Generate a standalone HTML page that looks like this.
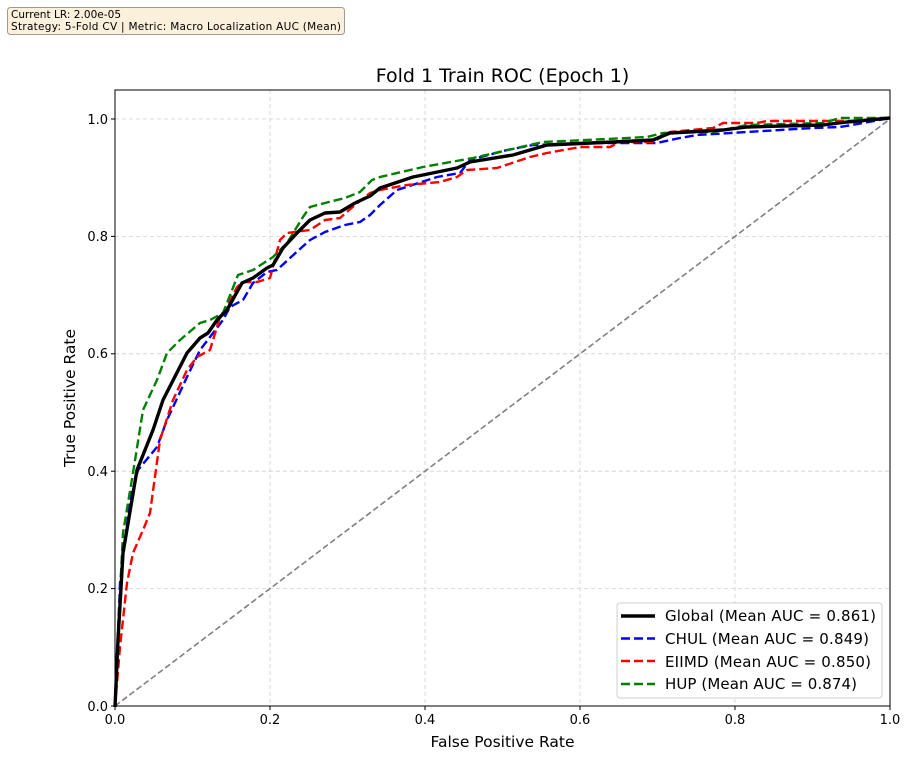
<!DOCTYPE html>
<html><head><meta charset="utf-8"><style>
body{margin:0;background:#fff;}
svg{display:block;font-family:"DejaVu Sans","Liberation Sans",sans-serif;}
</style></head><body>
<svg width="911" height="760" viewBox="0 0 911 760" xmlns="http://www.w3.org/2000/svg">
<rect width="911" height="760" fill="#fff"/>
<rect x="7.5" y="7.5" width="337" height="27" rx="3" fill="#fbf0dc" stroke="#a09a8c" stroke-width="1"/>
<text x="11" y="18" font-size="10.5" fill="#000" textLength="110">Current LR: 2.00e-05</text>
<text x="11" y="30" font-size="10.5" fill="#000" textLength="330">Strategy: 5-Fold CV | Metric: Macro Localization AUC (Mean)</text>
<text x="502.5" y="82" font-size="19" text-anchor="middle">Fold 1 Train ROC (Epoch 1)</text>
<g stroke="#d0d0d0" stroke-width="0.8" stroke-dasharray="4,3">
<line x1="270" y1="90" x2="270" y2="706"/><line x1="425" y1="90" x2="425" y2="706"/>
<line x1="580" y1="90" x2="580" y2="706"/><line x1="735" y1="90" x2="735" y2="706"/>
<line x1="115" y1="119" x2="890" y2="119"/><line x1="115" y1="236.4" x2="890" y2="236.4"/>
<line x1="115" y1="353.8" x2="890" y2="353.8"/><line x1="115" y1="471.2" x2="890" y2="471.2"/>
<line x1="115" y1="588.6" x2="890" y2="588.6"/>
</g>
<line x1="115" y1="706" x2="890" y2="119" stroke="#808080" stroke-width="1.6" stroke-dasharray="6,3"/>
<g fill="none" stroke-width="2.4" stroke-dasharray="9,4" stroke-linejoin="round">
<polyline stroke="#0000ff" points="115,707 120,583 130,500 138,470 157,447 167,420 187,377 200,350 210,337 223,320 230,307 243,300 253,283 267,272 277,270 290,258 310,240 325,232 345,225 360,222 370,215 380,205 397,190 437,177 460,173 470,160 507,150 533,145 587,143 657,143 680,138 697,135 747,132 813,128 840,127 863,123 890,118"/>
<polyline stroke="#ff0000" points="115,707 120,647 127,583 133,553 143,530 150,513 160,440 173,400 187,370 197,357 210,350 220,317 227,307 237,287 243,282 257,282 270,278 280,240 287,233 310,230 325,220 340,218 355,205 370,193 380,190 407,185 440,182 457,177 467,170 497,168 530,157 547,153 580,147 610,147 620,142 653,142 670,132 713,128 723,123 757,123 767,121 863,121 890,118"/>
<polyline stroke="#008000" points="115,707 118,633 123,533 133,473 143,410 157,380 167,353 180,340 200,323 210,320 223,313 238,275 253,270 273,257 287,243 303,217 310,207 325,203 345,198 360,192 372,180 380,177 423,167 473,158 543,142 587,140 647,137 663,133 713,132 747,125 823,123 840,118 890,118"/>
</g>
<polyline fill="none" stroke="#000" stroke-width="3.4" stroke-linejoin="round" points="115,707 118,640 123,553 137,470 153,430 163,400 187,353 200,338 208,333 217,320 227,310 242,283 253,278 267,268 273,265 283,248 297,233 310,220 325,213 340,212 355,203 370,196 380,188 413,177 457,168 470,162 513,155 547,145 613,142 653,140 670,133 723,130 747,127 823,125 847,122 890,118"/>
<rect x="115" y="90" width="775" height="616" fill="none" stroke="#000" stroke-width="1"/>
<g stroke="#000" stroke-width="1">
<line x1="115" y1="706" x2="115" y2="710"/><line x1="270" y1="706" x2="270" y2="710"/>
<line x1="425" y1="706" x2="425" y2="710"/><line x1="580" y1="706" x2="580" y2="710"/>
<line x1="735" y1="706" x2="735" y2="710"/><line x1="890" y1="706" x2="890" y2="710"/>
<line x1="111" y1="706" x2="115" y2="706"/><line x1="111" y1="588.6" x2="115" y2="588.6"/>
<line x1="111" y1="471.2" x2="115" y2="471.2"/><line x1="111" y1="353.8" x2="115" y2="353.8"/>
<line x1="111" y1="236.4" x2="115" y2="236.4"/><line x1="111" y1="119" x2="115" y2="119"/>
</g>
<g font-size="13" text-anchor="middle">
<text x="115" y="724">0.0</text><text x="270" y="724">0.2</text><text x="425" y="724">0.4</text>
<text x="580" y="724">0.6</text><text x="735" y="724">0.8</text><text x="890" y="724">1.0</text>
</g>
<g font-size="13" text-anchor="end">
<text x="108" y="711">0.0</text><text x="108" y="593">0.2</text><text x="108" y="476">0.4</text>
<text x="108" y="358">0.6</text><text x="108" y="241">0.8</text><text x="108" y="124">1.0</text>
</g>
<text x="502.5" y="747" font-size="15.5" text-anchor="middle">False Positive Rate</text>
<text transform="translate(75,398) rotate(-90)" font-size="15.5" text-anchor="middle">True Positive Rate</text>
<rect x="617" y="603" width="265" height="95" rx="3" fill="#fff" fill-opacity="0.85" stroke="#d0d0d0"/>
<line x1="621" y1="616" x2="655" y2="616" stroke="#000" stroke-width="3.4"/>
<line x1="621" y1="638.5" x2="655" y2="638.5" stroke="#0000ff" stroke-width="2.4" stroke-dasharray="9,4"/>
<line x1="621" y1="661" x2="655" y2="661" stroke="#ff0000" stroke-width="2.4" stroke-dasharray="9,4"/>
<line x1="621" y1="684" x2="655" y2="684" stroke="#008000" stroke-width="2.4" stroke-dasharray="9,4"/>
<g font-size="15">
<text x="665" y="621" textLength="211">Global (Mean AUC = 0.861)</text>
<text x="665" y="644" textLength="204">CHUL (Mean AUC = 0.849)</text>
<text x="665" y="667" textLength="206">EIIMD (Mean AUC = 0.850)</text>
<text x="665" y="689" textLength="192">HUP (Mean AUC = 0.874)</text>
</g>
</svg>
</body></html>
